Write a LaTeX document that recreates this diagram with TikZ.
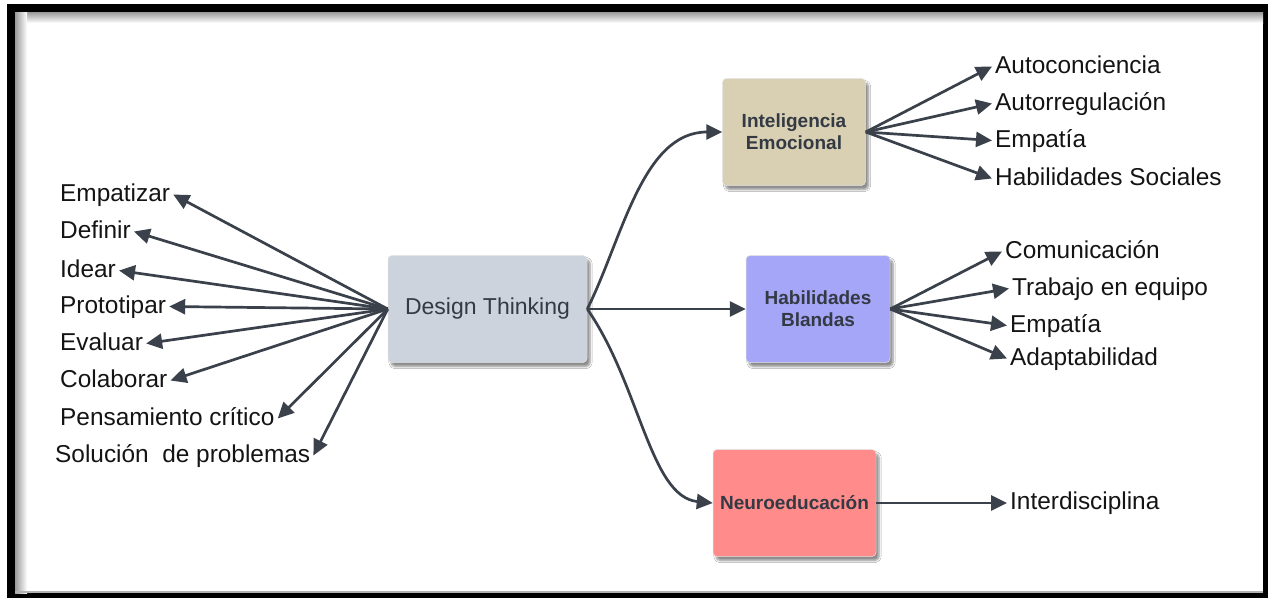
\documentclass[tikz,border=0pt]{standalone}
\usepackage{fontspec}
\setmainfont{Liberation Sans}
\usetikzlibrary{arrows.meta,shadows.blur}

\definecolor{ink}{HTML}{3A414B}
\definecolor{boxtext}{HTML}{333A44}
\definecolor{dtfill}{HTML}{CDD3DC}
\definecolor{iefill}{HTML}{D9D0B3}
\definecolor{hbfill}{HTML}{A6A6F9}
\definecolor{nefill}{HTML}{FF8B8B}

\newcommand{\lblfont}{\fontsize{24.4}{28}\selectfont}
\newcommand{\boxfont}{\fontsize{19}{22}\selectfont\bfseries}

\tikzset{
  lbl/.style={font=\lblfont, text=black!92, inner sep=3pt,
              text height=18pt, text depth=5pt},
  card/.style={rounded corners=4pt, draw=black!12, line width=0.5pt,
               text=boxtext, align=center,
               blur shadow={shadow xshift=3pt, shadow yshift=-4pt,
                            shadow blur steps=6, shadow opacity=45}},
  arr/.style={draw=ink, line width=2.7pt,
              -{Triangle[length=16pt,width=15pt]}},
}

\begin{document}
\begin{tikzpicture}[x=1pt,y=-1pt]
\useasboundingbox (0,0) rectangle (1268,598);

% frame
\fill[white] (0,0) rectangle (1268,598);
\fill[black] (7,4) rectangle (1268,598);
\fill[white] (15,12) rectangle (1263,593);
\shade[top color=black!40, bottom color=white] (15,12) rectangle (1263,23);
\shade[left color=black!40, right color=white] (15,12) rectangle (27,593);
\fill[black!30] (15,591) rectangle (1263,593);

% central and branch cards
\node[card, fill=dtfill, minimum width=199pt, minimum height=107pt,
      font=\fontsize{23}{26}\selectfont] (dt) at (487.5,309) {Design Thinking};
\node[card, fill=iefill, minimum width=143pt, minimum height=107pt,
      font=\boxfont] (ie) at (794,132) {Inteligencia\\Emocional};
\node[card, fill=hbfill, minimum width=144pt, minimum height=107pt,
      font=\boxfont] (hb) at (818,309) {Habilidades\\Blandas};
\node[card, fill=nefill, minimum width=163pt, minimum height=107pt,
      font=\boxfont] (ne) at (794.5,503) {Neuroeducación};

% text labels
\foreach \nm/\lx/\ly/\lt in {
  emp/60/201/Empatizar,
  def/60/238/Definir,
  ide/60/277/Idear,
  pro/60/313/Prototipar,
  eva/60/350/Evaluar,
  col/60/387/Colaborar,
  pen/60/425/Pensamiento crítico,
  sol/55/462/Solución~ de problemas,
  ac/995/73/Autoconciencia,
  ar/995/110/Autorregulación,
  ea/995/147/Empatía,
  hs/995/185/Habilidades Sociales,
  co/1005/258/Comunicación,
  tr/1012/295/Trabajo en equipo,
  eb/1010/332/Empatía,
  ad/1010/365/Adaptabilidad,
  it/1010/509.5/Interdisciplina}{
  \node[lbl, anchor=base west] (\nm) at (\lx-3,\ly) {\lt};
}

% connectors
\foreach \nm in {emp,def,ide,pro,eva,col,pen,sol}
  \draw[arr] (dt.west) -- (\nm.east);

\draw[arr] (dt.east) .. controls (622,240) and (642,132) .. (ie.west);
\draw[arr] (dt.east) -- (hb.west);
\draw[arr] (dt.east) .. controls (640,385) and (650,497) .. (ne.west);

\foreach \nm in {ac,ar,ea,hs}
  \draw[arr] (ie.east) -- (\nm.west);
\foreach \nm in {co,tr,eb,ad}
  \draw[arr] (hb.east) -- (\nm.west);
\draw[arr] (ne.east) -- (it.west);
\end{tikzpicture}
\end{document}
